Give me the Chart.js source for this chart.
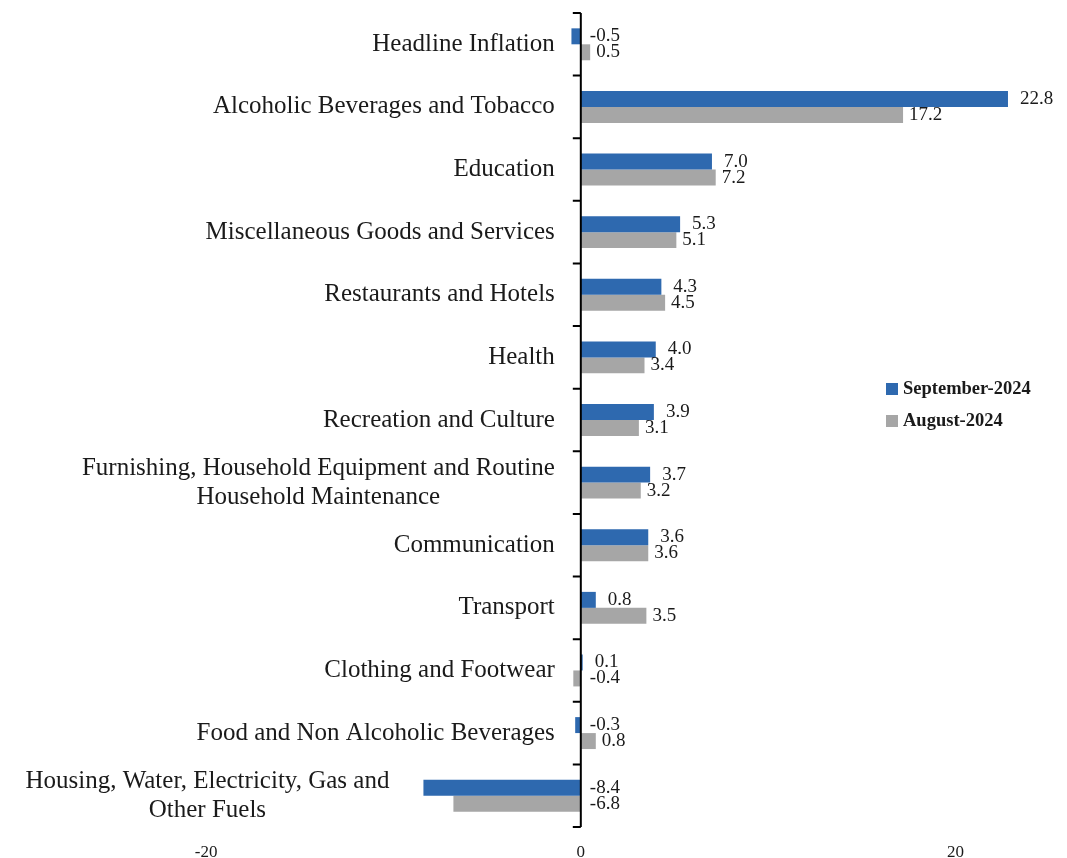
<!DOCTYPE html>
<html>
<head>
<meta charset="utf-8">
<script src="https://cdn.jsdelivr.net/npm/chart.js@4"></script>
<style>
  body { margin: 0; background: #fff; }
  #wrap { width: 1067px; height: 858px; }
</style>
</head>
<body>
<div id="wrap"><canvas id="myChart" width="1067" height="858"></canvas></div>
<script>
// categories, top to bottom
const categories = [
    "Headline Inflation",
    "Alcoholic Beverages and Tobacco",
    "Education",
    "Miscellaneous Goods and Services",
    "Restaurants and Hotels",
    "Health",
    "Recreation and Culture",
    ["Furnishing, Household Equipment and Routine", "Household Maintenance"],
    "Communication",
    "Transport",
    "Clothing and Footwear",
    "Food and Non Alcoholic Beverages",
    ["Housing, Water, Electricity, Gas and", "Other Fuels"]
];
const september2024 = [-0.5, 22.8, 7.0, 5.3, 4.3, 4.0, 3.9, 3.7, 3.6, 0.8, 0.1, -0.3, -8.4];
const august2024 = [0.5, 17.2, 7.2, 5.1, 4.5, 3.4, 3.1, 3.2, 3.6, 3.5, -0.4, 0.8, -6.8];
const xTicks = [-20, 0, 20];

const serif = "'Liberation Serif', 'Times New Roman', serif";

// zero axis line with tick marks between categories
const zeroAxis = {
    id: "zeroAxis",
    afterDatasetsDraw(chart) {
        const ctx = chart.ctx;
        const x = chart.scales.x.getPixelForValue(0);
        const area = chart.chartArea;
        ctx.save();
        ctx.strokeStyle = "#000";
        ctx.lineWidth = 2;
        ctx.beginPath();
        ctx.moveTo(x, area.top);
        ctx.lineTo(x, area.bottom);
        const band = (area.bottom - area.top) / categories.length;
        for (let i = 0; i <= categories.length; i++) {
            const ty = area.top + i * band;
            ctx.moveTo(x - 8, ty);
            ctx.lineTo(x, ty);
        }
        ctx.stroke();
        ctx.restore();
    }
};

// category names left of the axis (or left of a long negative bar)
const catLabels = {
    id: "catLabels",
    afterDraw(chart) {
        const ctx = chart.ctx;
        const xs = chart.scales.x;
        const zero = xs.getPixelForValue(0);
        ctx.save();
        ctx.font = "25px " + serif;
        ctx.fillStyle = "#1a1a1a";
        ctx.textBaseline = "middle";
        ctx.textAlign = "center";
        categories.forEach((cat, i) => {
            const y = chart.scales.y.getPixelForValue(i);
            const minPx = xs.getPixelForValue(Math.min(september2024[i], august2024[i], 0));
            let right = zero - 26;
            if (minPx < right) right = minPx - 34;
            const lines = Array.isArray(cat) ? cat : [cat];
            const blockW = Math.max(...lines.map(l => ctx.measureText(l).width));
            const center = right - blockW / 2;
            const lh = 29;
            lines.forEach((l, j) => {
                ctx.fillText(l, center, y + (j - (lines.length - 1) / 2) * lh);
            });
        });
        ctx.restore();
    }
};

// value labels next to each bar
const valueLabels = {
    id: "valueLabels",
    afterDatasetsDraw(chart) {
        const ctx = chart.ctx;
        const xs = chart.scales.x;
        ctx.save();
        ctx.font = "19px " + serif;
        ctx.fillStyle = "#1a1a1a";
        ctx.textAlign = "left";
        ctx.textBaseline = "middle";
        chart.data.datasets.forEach((ds, di) => {
            const meta = chart.getDatasetMeta(di);
            const gap = di === 0 ? 12 : 6;
            meta.data.forEach((bar, i) => {
                const v = ds.data[i];
                const x = xs.getPixelForValue(Math.max(v, 0)) + (v < 0 ? 9 : gap);
                ctx.fillText(v.toFixed(1), x, bar.y);
            });
        });
        ctx.restore();
    }
};

// legend sitting inside the plot on the right
const sideLegend = {
    id: "sideLegend",
    afterDraw(chart) {
        const ctx = chart.ctx;
        ctx.save();
        ctx.font = "bold 18.5px " + serif;
        ctx.textBaseline = "middle";
        ctx.textAlign = "left";
        chart.data.datasets.forEach((ds, i) => {
            const y = 389 + i * 32;
            ctx.fillStyle = ds.backgroundColor;
            ctx.fillRect(886, y - 6, 12, 12);
            ctx.fillStyle = "#1a1a1a";
            ctx.fillText(ds.label, 903, y);
        });
        ctx.restore();
    }
};

const canvas = document.getElementById("myChart");
let myChart = new Chart(canvas, {
    type: "bar",
    data: {
        labels: categories,
        datasets: [
            {
                label: "September-2024",
                data: september2024,
                backgroundColor: "#2E69AF",
                categoryPercentage: 0.51,
                barPercentage: 1.0
            },
            {
                label: "August-2024",
                data: august2024,
                backgroundColor: "#A6A6A6",
                categoryPercentage: 0.51,
                barPercentage: 1.0
            }
        ]
    },
    options: {
        indexAxis: "y",
        responsive: false,
        animation: false,
        layout: { padding: { top: 13, left: 0, right: 0, bottom: -20 } },
        plugins: {
            legend: { display: false },
            tooltip: { enabled: false }
        },
        scales: {
            x: {
                min: -31,
                max: 25.95,
                afterBuildTicks: (scale) => {
                    scale.ticks = xTicks.map(v => ({ value: v }));
                },
                grid: { display: false, drawTicks: false },
                border: { display: false },
                ticks: {
                    font: { family: serif, size: 17, lineHeight: 1 },
                    color: "#1a1a1a",
                    padding: 17,
                    maxRotation: 0
                }
            },
            y: {
                display: false,
                grid: { display: false }
            }
        }
    },
    plugins: [zeroAxis, catLabels, valueLabels, sideLegend]
});
</script>
</body>
</html>
